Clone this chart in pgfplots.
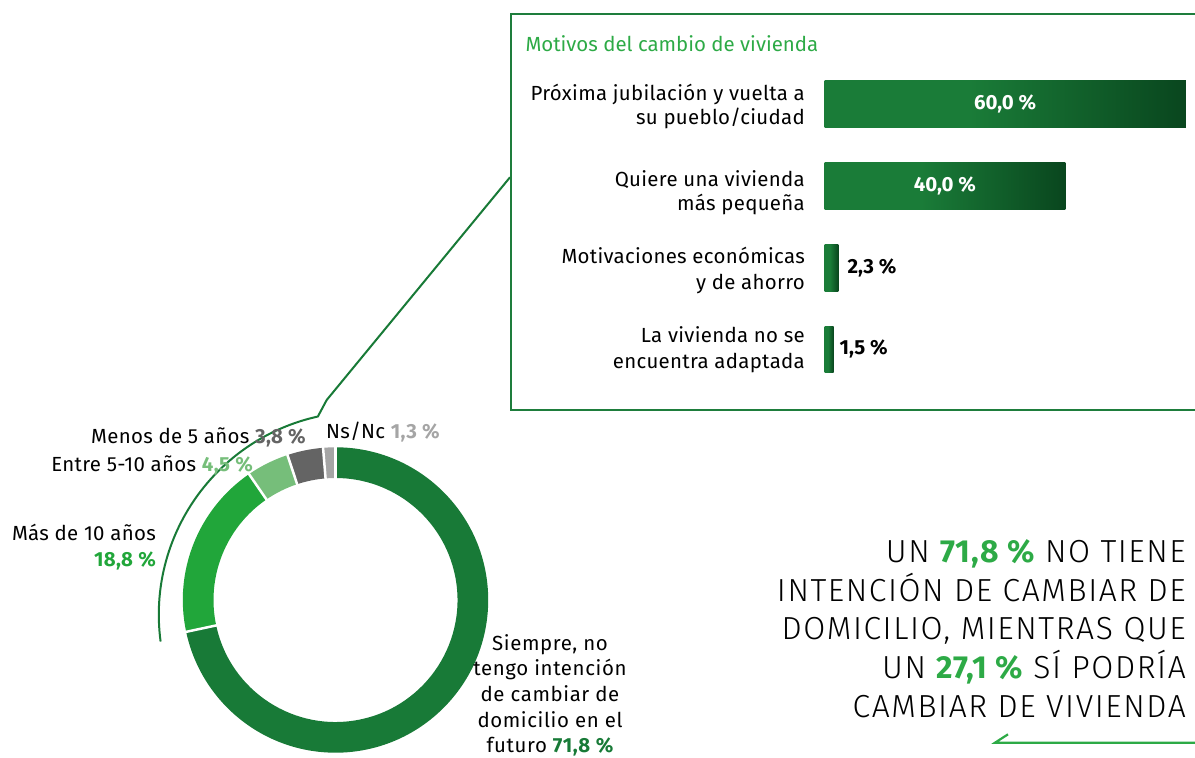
\documentclass[border=0pt]{standalone}
\usepackage{fontspec}
\setmainfont{Fira Sans}
\newfontfamily\lightfont{Fira Sans Light}[LetterSpace=5]
\usepackage{pgfplots}
\pgfplotsset{compat=1.18}
\definecolor{dkgreen}{RGB}{24,122,55}
\definecolor{brgreen}{RGB}{33,166,58}
\definecolor{ltgreen}{RGB}{118,190,122}
\definecolor{dkgray}{RGB}{100,100,100}
\definecolor{ltgray}{RGB}{165,165,165}
\definecolor{titlegreen}{RGB}{45,170,70}
\definecolor{boxgreen}{RGB}{30,125,60}
\definecolor{barA}{RGB}{26,124,56}
\definecolor{barB}{RGB}{9,70,30}
\pgfdeclarehorizontalshading{barshade}{100bp}{color(0bp)=(barA); color(25bp)=(barA); color(45bp)=(barA); color(75bp)=(barB); color(100bp)=(barB)}
\newcommand\fs[1]{\fontsize{#1}{#1}\selectfont}
% donut data (percent)
\def\vA{71.8}\def\vB{18.8}\def\vC{4.5}\def\vD{3.8}\def\vE{1.3}
\pgfmathsetmacro\tot{\vA+\vB+\vC+\vD+\vE}
\pgfmathsetmacro\aA{90}
\pgfmathsetmacro\aB{\aA-\vA/\tot*360}
\pgfmathsetmacro\aC{\aB-\vB/\tot*360}
\pgfmathsetmacro\aD{\aC-\vC/\tot*360}
\pgfmathsetmacro\aE{\aD-\vD/\tot*360}
\pgfmathsetmacro\aF{\aE-\vE/\tot*360}
\newcommand\seg[3]{%
  \fill[#3] (axis cs:335.5,158) ++(#1:152.7bp) arc[start angle=#1, end angle=#2, radius=152.7bp]
    -- ++(#2+180:30.7bp) arc[start angle=#2, end angle=#1, radius=122bp] -- cycle;}
\newcommand\gap[1]{%
  \draw[white, line width=2.5bp] (axis cs:335.5,158) ++(#1:119bp) -- ++(#1:37bp);}
\begin{document}
\begin{tikzpicture}[x=1bp,y=1bp]
\begin{axis}[at={(0bp,0bp)}, anchor=south west, width=1195bp, height=758bp, scale only axis,
  xmin=0, xmax=1195, ymin=0, ymax=758, hide axis, clip=false]
  % donut
  \seg{\aA}{\aB}{dkgreen}
  \seg{\aB}{\aC}{brgreen}
  \seg{\aC}{\aD}{ltgreen}
  \seg{\aD}{\aE}{dkgray}
  \seg{\aE}{\aF}{ltgray}
  \gap{\aA}\gap{\aB}\gap{\aC}\gap{\aD}\gap{\aE}
  % connector
  \draw[dkgreen, line width=2bp] (axis cs:361.8,143.3) ++(187.6:203bp) arc[start angle=187.6, end angle=102.5, radius=203bp]
     -- (axis cs:326.7,358) -- (axis cs:510,580.7);
  % box
  \draw[boxgreen, line width=2.5bp] (axis cs:1210,744) -- (axis cs:511,744) -- (axis cs:511,348) -- (axis cs:1210,348);
  \node[anchor=base west, text=titlegreen, font=\fs{20.5}, inner sep=0pt] at (axis cs:525.3,706.3) {Motivos del cambio de vivienda};
  % category labels
  \begin{scope}[every node/.style={anchor=base east, font=\addfontfeatures{LetterSpace=1.5}\fs{20.5}, inner sep=0pt}]
  \node at (axis cs:805,657.3) {Próxima jubilación y vuelta a};
  \node at (axis cs:805,633) {su pueblo/ciudad};
  \node at (axis cs:805,571.3) {Quiere una vivienda};
  \node at (axis cs:805,547) {más pequeña};
  \node at (axis cs:805,494) {Motivaciones económicas};
  \node at (axis cs:805,468.5) {y de ahorro};
  \node at (axis cs:805,415.3) {La vivienda no se};
  \node at (axis cs:805,389.7) {encuentra adaptada};
  \end{scope}
  % donut labels
  \begin{scope}[every node/.style={font=\addfontfeatures{LetterSpace=1.5}\fs{20.5}, inner sep=0pt}]
  \node[anchor=base east] at (axis cs:306,314.7) {Menos de 5 años \textcolor{dkgray}{\bfseries 3,8 \%}};
  \node[anchor=base west] at (axis cs:326,319.7) {Ns/Nc \textcolor{ltgray}{\bfseries 1,3 \%}};
  \node[anchor=base east] at (axis cs:253,286.3) {Entre 5-10 años \textcolor{ltgreen}{\bfseries 4,5 \%}};
  \node[anchor=base east] at (axis cs:156,217.3) {Más de 10 años};
  \node[anchor=base east] at (axis cs:156,191.3) {\textcolor{brgreen}{\bfseries 18,8 \%}};
  \end{scope}
  \begin{scope}[every node/.style={anchor=base, font=\addfontfeatures{LetterSpace=3}\fs{20.5}, inner sep=0pt}]
  \node at (axis cs:550,107.3) {Siempre, no};
  \node at (axis cs:550,82) {tengo intención};
  \node at (axis cs:550,56.5) {de cambiar de};
  \node at (axis cs:550,31) {domicilio en el};
  \node at (axis cs:550,5.5) {futuro \textcolor{dkgreen}{\bfseries 71,8 \%}};
  \end{scope}
  % right statement
  \begin{scope}[every node/.style={anchor=base east, font=\lightfont\fs{32}, inner sep=0pt}]
  \node at (axis cs:1186,195.3) {UN \textcolor{titlegreen}{\normalfont\addfontfeatures{LetterSpace=3}\fs{32}\bfseries 71,8 \%} NO TIENE};
  \node at (axis cs:1186,156.3) {INTENCIÓN DE CAMBIAR DE};
  \node at (axis cs:1186,118) {DOMICILIO, MIENTRAS QUE};
  \node at (axis cs:1186,79) {UN \textcolor{titlegreen}{\normalfont\addfontfeatures{LetterSpace=3}\fs{32}\bfseries 27,1 \%} SÍ PODRÍA};
  \node at (axis cs:1186,40.3) {CAMBIAR DE VIVIENDA};
  \end{scope}
  \draw[titlegreen, line width=2.2bp] (axis cs:1008,23.7) -- (axis cs:995,15.3) -- (axis cs:1210,15.3);
\end{axis}
% bar chart
\begin{axis}[at={(824.5bp,367.75bp)}, anchor=south west, width=361.3bp, height=326.8bp, scale only axis,
  xmin=0, xmax=60, ymin=-0.5, ymax=3.5, y dir=reverse, hide axis, clip=false,
  xbar, bar width=46.7bp, bar shift=0pt]
  \addplot[draw=none, shade, shading=barshade] coordinates {(60.0,0)};
  \addplot[draw=none, shade, shading=barshade] coordinates {(40.0,1)};
  \addplot[draw=none, shade, shading=barshade] coordinates {(2.3,2)};
  \addplot[draw=none, shade, shading=barshade] coordinates {(1.5,3)};
  \node[text=white, font=\bfseries\fs{20.5}] at (axis cs:30,0) {60,0 \%};
  \node[text=white, font=\bfseries\fs{20.5}] at (axis cs:20,1) {40,0 \%};
  \node[anchor=west, font=\bfseries\fs{20.5}, inner sep=0pt, xshift=9bp] at (axis cs:2.3,2) {2,3 \%};
  \node[anchor=west, font=\bfseries\fs{20.5}, inner sep=0pt, xshift=6bp] at (axis cs:1.5,3) {1,5 \%};
\end{axis}
\pgfresetboundingbox
\useasboundingbox (0bp,0bp) rectangle (1195bp,758bp);
\end{tikzpicture}
\end{document}
